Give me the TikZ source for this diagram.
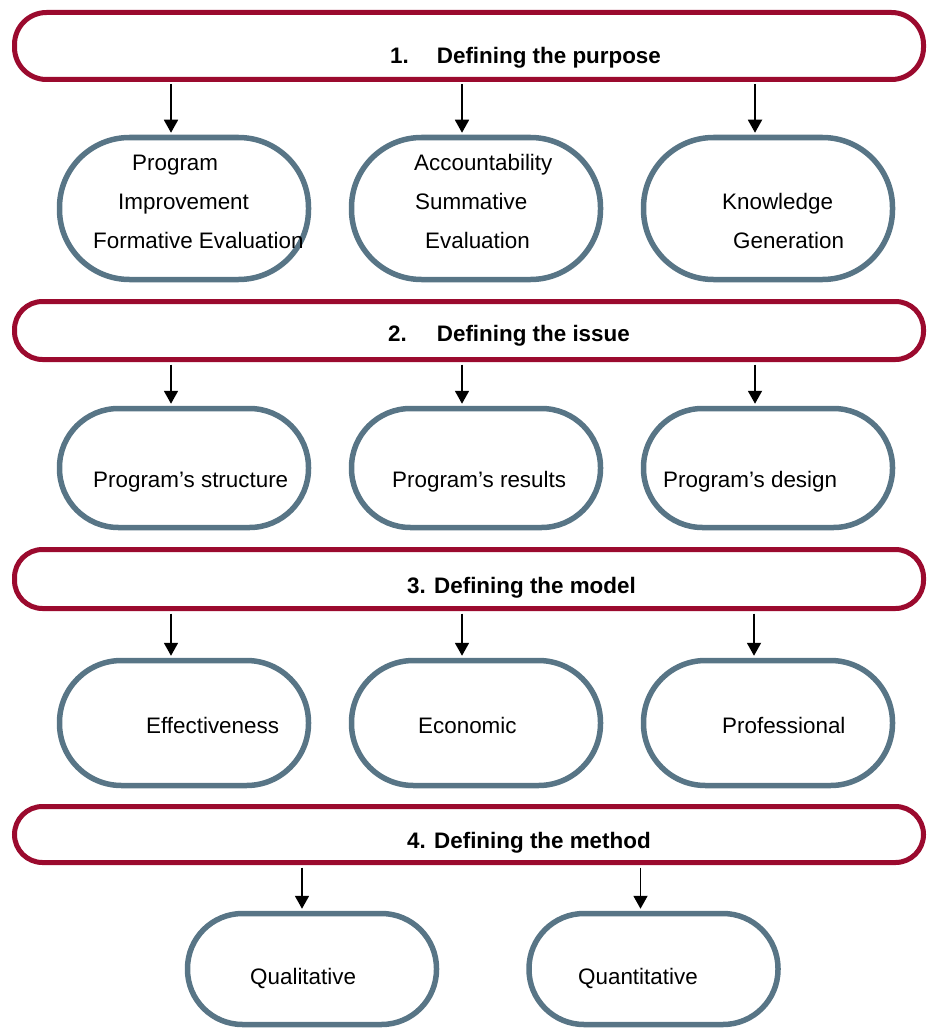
\documentclass[tikz,border=0pt]{standalone}
\usepackage{fontspec}
\setmainfont{Liberation Sans}
\usetikzlibrary{arrows.meta}

\definecolor{bannerred}{HTML}{9B0A2E}
\definecolor{boxgrey}{HTML}{587586}

\tikzset{
    banner/.style={draw=bannerred, line width=5pt, rounded corners=28pt, minimum width=909pt, inner sep=0pt},
    itembox/.style={draw=boxgrey, line width=5.5pt, rounded corners=55pt, minimum width=249pt, inner sep=0pt},
    arr/.style={line width=1.8pt, shorten <=2.5pt, shorten >=2pt, -{Triangle[width=14pt,length=13pt]}},
    lbl/.style={anchor=base west, inner sep=0pt, font=\fontsize{22.4}{26}\selectfont},
    head/.style={lbl, font=\fontsize{22.4}{26}\selectfont\bfseries},
}

\begin{document}
\begin{tikzpicture}[x=1pt, y=-1pt]
    \useasboundingbox (0,0) rectangle (928,1030);

    % 1. Purpose
    \node[banner, minimum height=67pt, rounded corners=32pt] (purpose) at (469,46) {};
    \node[head] (purposetxt) at (390,64) {1.\hspace{28pt}Defining the purpose};
    \node[itembox, minimum height=142pt, rounded corners=70pt] (improve) at (184,208.5) {};
    \node[itembox, minimum height=142pt, rounded corners=70pt] (account) at (476,208.5) {};
    \node[itembox, minimum height=142pt, rounded corners=70pt] (knowledge) at (768,208.5) {};
    \node[lbl] (improve1) at (132,170) {Program};
    \node[lbl] (improve2) at (118,209) {Improvement};
    \node[lbl] (improve3) at (93,248) {Formative Evaluation};
    \node[lbl] (account1) at (414,170) {Accountability};
    \node[lbl] (account2) at (415,209) {Summative};
    \node[lbl] (account3) at (425,248) {Evaluation};
    \node[lbl] (knowledge1) at (722,209) {Knowledge};
    \node[lbl] (knowledge2) at (733,248) {Generation};

    % 2. Issue
    \node[banner, minimum height=58pt] (issue) at (469,330.5) {};
    \node[head] (issuetxt) at (388,341) {2.\hspace{30pt}Defining the issue};
    \node[itembox, minimum height=119pt, rounded corners=59pt] (structure) at (184,468) {};
    \node[itembox, minimum height=119pt, rounded corners=59pt] (results) at (476,468) {};
    \node[itembox, minimum height=119pt, rounded corners=59pt] (design) at (768,468) {};
    \node[lbl] (structuretxt) at (93,487) {Program’s structure};
    \node[lbl] (resultstxt) at (392,487) {Program’s results};
    \node[lbl] (designtxt) at (663,487) {Program’s design};

    % 3. Model
    \node[banner, minimum height=59pt] (model) at (469,579) {};
    \node[head] (modeltxt) at (407,593) {3. Defining the model};
    \node[itembox, minimum height=125pt, rounded corners=62pt] (effect) at (184,723) {};
    \node[itembox, minimum height=125pt, rounded corners=62pt] (econ) at (476,723) {};
    \node[itembox, minimum height=125pt, rounded corners=62pt] (prof) at (768,723) {};
    \node[lbl] (effecttxt) at (146,733) {Effectiveness};
    \node[lbl] (econtxt) at (418,733) {Economic};
    \node[lbl] (proftxt) at (722,733) {Professional};

    % 4. Method
    \node[banner, minimum height=56pt] (method) at (469,834.5) {};
    \node[head] (methodtxt) at (407,848) {4. Defining the method};
    \node[itembox, minimum height=111pt] (qual) at (312,969) {};
    \node[itembox, minimum height=111pt] (quant) at (653.5,969) {};
    \node[lbl] (qualtxt) at (250,984) {Qualitative};
    \node[lbl] (quanttxt) at (578,984) {Quantitative};

    % arrows, a little left of each box centre
    \foreach \b/\n/\s in {purpose/improve/13, purpose/account/14, purpose/knowledge/13,
                          issue/structure/13, issue/results/14, issue/design/13,
                          model/effect/13, model/econ/14, model/prof/14,
                          method/qual/10, method/quant/13} {
        \coordinate (\n-in) at ([xshift=-\s pt]\n.north);
        \draw[arr] (\n-in |- \b.south) -- (\n-in);
    }
\end{tikzpicture}
\end{document}
